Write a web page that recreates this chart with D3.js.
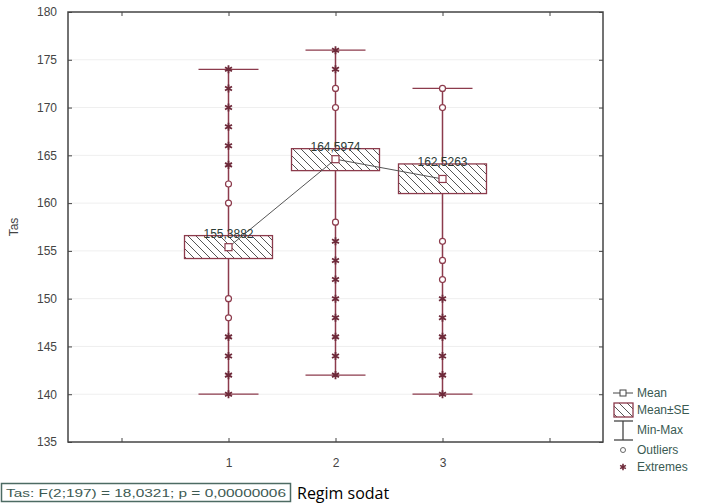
<!DOCTYPE html>
<html>
<head>
<meta charset="utf-8">
<script src="https://cdn.jsdelivr.net/npm/d3@7"></script>
<style>
  body { margin: 0; background: #fff; }
  svg { display: block; font-family: "Liberation Sans", Arial, sans-serif; }
</style>
</head>
<body>
<div id="chart"></div>
<script>
// Data
const groups = [1, 2, 3];
const means = [155.3882, 164.5974, 162.5263];
const seLow = [154.2, 163.4, 161.0];
const seHigh = [156.6, 165.7, 164.1];
const mins = [140, 142, 140];
const maxs = [174, 176, 172];
const outliers = [[162, 160, 150, 148], [172, 170, 158], [172, 170, 156, 154, 152]];
const extremes = [[174, 172, 170, 168, 166, 164, 146, 144, 142, 140],
                  [176, 174, 156, 154, 152, 150, 148, 146, 144, 142],
                  [150, 148, 146, 144, 142, 140]];
const meanLabels = ["155,3882", "164,5974", "162,5263"];
const yTicks = [135, 140, 145, 150, 155, 160, 165, 170, 175, 180];
const xTicks = [0, 1, 2, 3, 4];
const legendItems = ["Mean", "Mean±SE", "Min-Max", "Outliers", "Extremes"];

const W = 718, H = 504;
const plot = {left: 68, right: 603, top: 12, bottom: 442};
const maroon = "#8c3b4c";

const svg = d3.select("#chart").append("svg")
    .attr("width", W).attr("height", H);

const defs = svg.append("defs");
defs.append("pattern")
    .attr("id", "hatch")
    .attr("patternUnits", "userSpaceOnUse")
    .attr("width", 8).attr("height", 8)
    .append("path")
    .attr("d", "M0,0L8,8M-2,6L2,10M6,-2L10,2")
    .attr("stroke", "#555").attr("stroke-width", 1);

const x = d3.scaleLinear().domain([-0.5, 4.5]).range([plot.left, plot.right]);
const y = d3.scaleLinear().domain([135, 180]).range([plot.bottom, plot.top]);

// faint grid
svg.append("g").selectAll("line")
    .data(yTicks.slice(1, -1))
    .enter().append("line")
    .attr("x1", plot.left).attr("x2", plot.right)
    .attr("y1", d => y(d)).attr("y2", d => y(d))
    .attr("stroke", "#efefef");

// axes with inward ticks
const styleAxis = g => {
    g.select(".domain").remove();
    g.selectAll(".tick line").attr("stroke", "#444");
    g.selectAll(".tick text").attr("fill", "#444").attr("font-size", 12);
};
svg.append("g").attr("transform", `translate(${plot.left},0)`)
    .call(d3.axisLeft(y).tickValues(yTicks).tickSizeInner(-4).tickSizeOuter(0).tickPadding(11))
    .call(styleAxis);
svg.append("g").attr("transform", `translate(${plot.right},0)`)
    .call(d3.axisRight(y).tickValues(yTicks).tickSizeInner(-4).tickSizeOuter(0).tickFormat(""))
    .call(styleAxis);
svg.append("g").attr("transform", `translate(0,${plot.bottom})`)
    .call(d3.axisBottom(x).tickValues(xTicks).tickSizeInner(-4).tickSizeOuter(0).tickPadding(16)
        .tickFormat(d => groups.includes(d) ? d : ""))
    .call(styleAxis);
svg.append("g").attr("transform", `translate(0,${plot.top})`)
    .call(d3.axisTop(x).tickValues(xTicks).tickSizeInner(-4).tickSizeOuter(0).tickFormat(""))
    .call(styleAxis);

svg.append("rect")
    .attr("x", plot.left).attr("y", plot.top)
    .attr("width", plot.right - plot.left).attr("height", plot.bottom - plot.top)
    .attr("fill", "none").attr("stroke", "#444").attr("stroke-width", 1.5);

// y label
svg.append("text")
    .attr("transform", `translate(18,${(plot.top + plot.bottom) / 2}) rotate(-90)`)
    .attr("text-anchor", "middle")
    .attr("font-size", 12).attr("fill", "#444")
    .text("Tas");

// whiskers
const capW = 30, boxW = 44;
const g = svg.append("g");
groups.forEach((grp, i) => {
    const cx = x(grp);
    g.append("line").attr("x1", cx).attr("x2", cx)
        .attr("y1", y(mins[i])).attr("y2", y(maxs[i]))
        .attr("stroke", maroon).attr("stroke-width", 1.5);
    [mins[i], maxs[i]].forEach(v => {
        g.append("line").attr("x1", cx - capW).attr("x2", cx + capW)
            .attr("y1", y(v)).attr("y2", y(v))
            .attr("stroke", maroon).attr("stroke-width", 1.3);
    });
});

// boxes
groups.forEach((grp, i) => {
    const cx = x(grp);
    g.append("rect")
        .attr("x", cx - boxW).attr("y", y(seHigh[i]))
        .attr("width", boxW * 2).attr("height", y(seLow[i]) - y(seHigh[i]))
        .attr("fill", "#fff");
    g.append("rect")
        .attr("x", cx - boxW).attr("y", y(seHigh[i]))
        .attr("width", boxW * 2).attr("height", y(seLow[i]) - y(seHigh[i]))
        .attr("fill", "url(#hatch)").attr("stroke", maroon).attr("stroke-width", 1.3);
});

// mean line
g.append("path")
    .datum(groups.map((grp, i) => [grp, means[i]]))
    .attr("d", d3.line().x(d => x(d[0])).y(d => y(d[1])))
    .attr("fill", "none").attr("stroke", "#555").attr("stroke-width", 1);

// outliers and extremes
groups.forEach((grp, i) => {
    const cx = x(grp);
    outliers[i].forEach(v => {
        g.append("circle").attr("cx", cx).attr("cy", y(v)).attr("r", 3)
            .attr("fill", "#fff").attr("stroke", maroon).attr("stroke-width", 1.2);
    });
    extremes[i].forEach(v => {
        g.append("path")
            .attr("transform", `translate(${cx},${y(v)})`)
            .attr("d", d3.symbol(d3.symbolAsterisk, 45)())
            .attr("stroke", "#6e2a3a").attr("stroke-width", 1.8);
    });
    g.append("rect").attr("x", cx - 3.5).attr("y", y(means[i]) - 3.5)
        .attr("width", 7).attr("height", 7)
        .attr("fill", "#fff").attr("stroke", maroon).attr("stroke-width", 1.2);
    g.append("text")
        .attr("x", cx).attr("y", y(seHigh[i]) + 2)
        .attr("text-anchor", "middle")
        .attr("font-size", 12).attr("fill", "#2a3a35")
        .text(meanLabels[i]);
});

// legend
const lg = svg.append("g").attr("font-size", 12).attr("fill", "#3a5a52");
const lx = 623, ly = [393, 410, 430, 450, 467];
lg.append("line").attr("x1", lx - 10).attr("x2", lx + 10).attr("y1", ly[0]).attr("y2", ly[0])
    .attr("stroke", "#444");
lg.append("rect").attr("x", lx - 3).attr("y", ly[0] - 3).attr("width", 6).attr("height", 6)
    .attr("fill", "#fff").attr("stroke", "#444");
lg.append("rect").attr("x", lx - 9).attr("y", 403).attr("width", 19).attr("height", 14)
    .attr("fill", "url(#hatch)").attr("stroke", maroon).attr("stroke-width", 1.3);
lg.append("line").attr("x1", lx - 9).attr("x2", lx + 10).attr("y1", 421).attr("y2", 421)
    .attr("stroke", "#444").attr("stroke-width", 1.3);
lg.append("line").attr("x1", lx).attr("x2", lx).attr("y1", 421).attr("y2", 440)
    .attr("stroke", "#444").attr("stroke-width", 1.3);
lg.append("line").attr("x1", lx - 9).attr("x2", lx + 10).attr("y1", 440).attr("y2", 440)
    .attr("stroke", "#444").attr("stroke-width", 1.3);
lg.append("circle").attr("cx", lx).attr("cy", ly[3]).attr("r", 2.5)
    .attr("fill", "#fff").attr("stroke", "#666");
lg.append("path").attr("transform", `translate(${lx},${ly[4]})`)
    .attr("d", d3.symbol(d3.symbolAsterisk, 30)())
    .attr("stroke", "#6e2a3a").attr("stroke-width", 1.6);
legendItems.forEach((t, i) => {
    lg.append("text").attr("x", 637).attr("y", ly[i]).attr("dy", "0.35em").text(t);
});

// statistics box
svg.append("rect").attr("x", 1.5).attr("y", 483.5).attr("width", 289).attr("height", 18)
    .attr("fill", "#fff").attr("stroke", "#4d6b63").attr("stroke-width", 1.5);
svg.append("text").attr("x", 6).attr("y", 497)
    .attr("font-size", 11.5).attr("fill", "#3d5a52")
    .attr("textLength", 280).attr("lengthAdjust", "spacingAndGlyphs")
    .text("Tas:   F(2;197) = 18,0321; p = 0,00000006");
svg.append("text").attr("x", 297).attr("y", 499)
    .attr("font-family", "'Open Sans', sans-serif").attr("font-size", 16).attr("fill", "#000")
    .text("Regim sodat");
</script>
</body>
</html>
